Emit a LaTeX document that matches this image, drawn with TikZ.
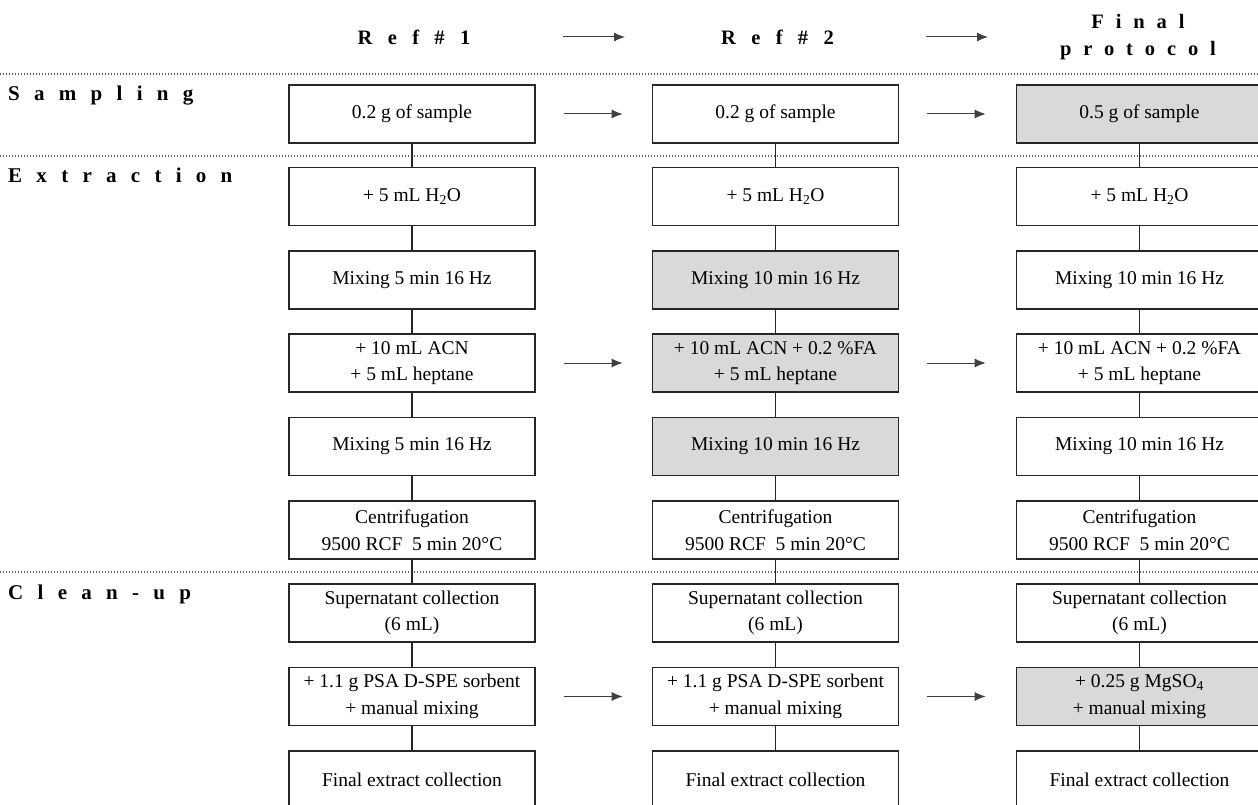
\documentclass[tikz,border=0pt]{standalone}
\usepackage{fontspec}
\setmainfont{Liberation Serif}
\usetikzlibrary{arrows.meta}
\begin{document}
\begin{tikzpicture}[x=1pt,y=-1pt,
 box/.style={draw=black!85, line width=1.6pt, minimum width=246pt, minimum height=58pt, align=center, font=\fontsize{19.5}{26.5}\selectfont, inner sep=0pt},
 hl/.style={box, fill=black!15},
 conn/.style={draw=black!85, line width=1.5pt},
 arr/.style={draw=black!75, line width=1pt, -{Latex[length=11pt,width=9pt]}},
 sepline/.style={draw=black!65, line width=1.6pt, dash pattern=on 1.3pt off 1.7pt},
 lab/.style={anchor=north west, inner sep=0pt, font=\fontsize{21}{24}\selectfont\bfseries\addfontfeature{LetterSpace=68}},
 head/.style={align=center, inner sep=0pt, font=\fontsize{20.5}{27}\selectfont\bfseries\addfontfeature{LetterSpace=75}},
 headf/.style={align=center, inner sep=0pt, font=\fontsize{20.5}{27}\selectfont\bfseries\addfontfeature{LetterSpace=58}}
]
\useasboundingbox (0,0) rectangle (1258,805);
\clip (0,0) rectangle (1258,805);
% headers
\node[head] (h1) at (414,37) {Ref\#1};
\node[head] (h2) at (777.5,37) {Ref\#2};
\node[headf] (h3) at (1138,37) {Final\\protocol};
% separators
\coordinate (d1a) at (0,74); \coordinate (d1b) at (1258,74);
\coordinate (d2a) at (0,156); \coordinate (d2b) at (1258,156);
\coordinate (d3a) at (0,572); \coordinate (d3b) at (1258,572);
\draw[sepline] (d1a) -- (d1b);
\draw[sepline] (d2a) -- (d2b);
\draw[sepline] (d3a) -- (d3b);
% section labels
\node[lab] (ls) at (8,86) {Sampling};
\node[lab] (le) at (8,168) {Extraction};
\node[lab] (lc) at (8,585) {Clean-up};
% column 1
\node[box] (a1) at (412,114) {0.2 g of sample};
\node[box] (a2) at (412,196.5) {+ 5 mL H\textsubscript{2}O};
\node[box] (a3) at (412,280) {Mixing 5 min 16 Hz};
\node[box] (a4) at (412,363) {+ 10 mL ACN\\+ 5 mL heptane};
\node[box] (a5) at (412,446.5) {Mixing 5 min 16 Hz};
\node[box] (a6) at (412,530) {Centrifugation\\9500 RCF\enspace 5 min 20°C};
\node[box] (a7) at (412,613) {Supernatant collection\\(6 mL)};
\node[box] (a8) at (412,696.5) {+ 1.1 g PSA D-SPE sorbent\\+ manual mixing};
\node[box] (a9) at (412,780) {Final extract collection};
% column 2
\node[box] (b1) at (775.5,114) {0.2 g of sample};
\node[box] (b2) at (775.5,196.5) {+ 5 mL H\textsubscript{2}O};
\node[hl] (b3) at (775.5,280) {Mixing 10 min 16 Hz};
\node[hl] (b4) at (775.5,363) {+ 10 mL ACN + 0.2 \%FA\\+ 5 mL heptane};
\node[hl] (b5) at (775.5,446.5) {Mixing 10 min 16 Hz};
\node[box] (b6) at (775.5,530) {Centrifugation\\9500 RCF\enspace 5 min 20°C};
\node[box] (b7) at (775.5,613) {Supernatant collection\\(6 mL)};
\node[box] (b8) at (775.5,696.5) {+ 1.1 g PSA D-SPE sorbent\\+ manual mixing};
\node[box] (b9) at (775.5,780) {Final extract collection};
% column 3
\node[hl] (c1) at (1139.5,114) {0.5 g of sample};
\node[box] (c2) at (1139.5,196.5) {+ 5 mL H\textsubscript{2}O};
\node[box] (c3) at (1139.5,280) {Mixing 10 min 16 Hz};
\node[box] (c4) at (1139.5,363) {+ 10 mL ACN + 0.2 \%FA\\+ 5 mL heptane};
\node[box] (c5) at (1139.5,446.5) {Mixing 10 min 16 Hz};
\node[box] (c6) at (1139.5,530) {Centrifugation\\9500 RCF\enspace 5 min 20°C};
\node[box] (c7) at (1139.5,613) {Supernatant collection\\(6 mL)};
\node[hl] (c8) at (1139.5,696.5) {+ 0.25 g MgSO\textsubscript{4}\\+ manual mixing};
\node[box] (c9) at (1139.5,780) {Final extract collection};
% vertical connectors
\foreach \c in {a,b,c}{
  \foreach \i [evaluate=\i as \j using int(\i+1)] in {1,...,8}{
    \draw[conn] (\c\i.south) -- (\c\j.north);
  }
}
% header arrows
\coordinate (ha1) at (563,37); \coordinate (hb1) at (625,37);
\coordinate (ha2) at (926,37); \coordinate (hb2) at (988,37);
\draw[arr] (ha1) -- (hb1);
\draw[arr] (ha2) -- (hb2);
% row arrows
\foreach \r in {1,4,8}{
  \draw[arr] ([xshift=28pt]a\r.east) -- ([xshift=-29pt]b\r.west);
  \draw[arr] ([xshift=28pt]b\r.east) -- ([xshift=-30pt]c\r.west);
}
\end{tikzpicture}
\end{document}
